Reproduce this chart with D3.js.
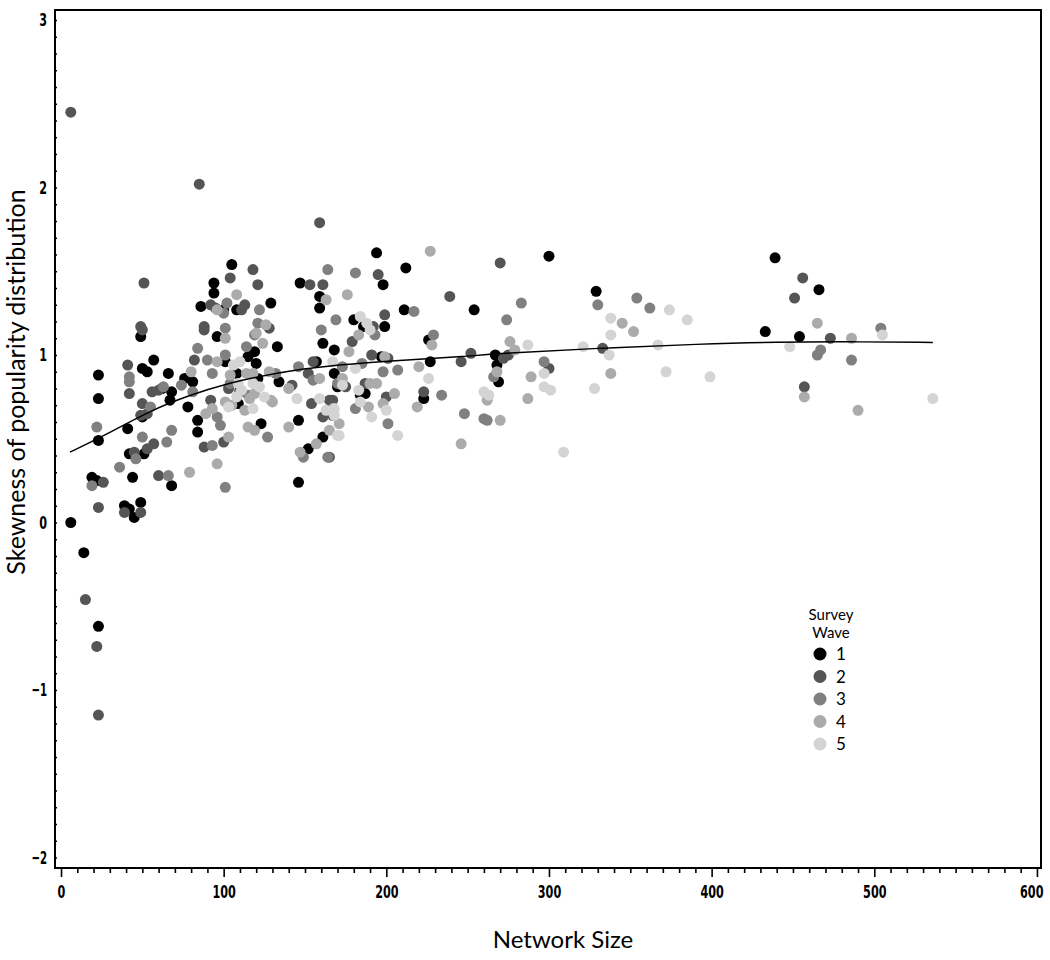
<!DOCTYPE html>
<html lang="en">
  <head>
    <title>Skewness of popularity distribution by network size</title>
    <script src="https://d3js.org/d3.v7.min.js"></script>
    <style>
      body { margin: 0; background: #fff; }
      .tick text { font-family: "Liberation Sans Narrow", "DejaVu Sans Condensed", sans-serif; font-size: 18.5px; font-weight: bold; fill: #000; }
      .title { font-family: Lato, "Open Sans", sans-serif; fill: #000; }
    </style>
  </head>
  <body>
    <div id="chart"></div>
    <script>
      // survey wave -> [network size, skewness]
      const waveLabels = ["1", "2", "3", "4", "5"];
      const waveColors = ["#000000", "#555555", "#808080", "#ababab", "#d4d4d4"];

      const wave1 = [
        [329,1.38],[439,1.58],[466,1.39],[433,1.14],[454,1.11],
        [194,1.61],[300,1.59],[212,1.52],[198,1.42],[211,1.27],[254,1.27],[199,1.17],[180,1.21],[186,1.17],
        [168,1.03],[226,1.09],[197,0.99],[267,1.00],[227,0.96],[268,0.94],[269,0.84],[168,0.89],[170,0.81],
        [187,0.77],[184,0.76],[223,0.74],
        [105,1.54],[94,1.43],[147,1.43],[94,1.37],[159,1.35],[86,1.29],[100,1.27],[108,1.27],[129,1.31],[159,1.28],
        [49,1.11],[96,1.11],[133,1.05],[119,1.02],[115,0.99],[101,0.96],[108,0.89],[120,0.95],[121,0.86],
        [134,0.84],[161,1.07],[157,0.96],[146,0.61],[161,0.51],[152,0.44],[146,0.24],[109,0.71],[110,0.79],
        [76,0.86],[81,0.84],[78,0.69],[84,0.61],[84,0.54],[123,0.59],
        [23,0.88],[23,0.74],[23,0.49],[41,0.56],[50,0.92],[53,0.90],[57,0.97],[66,0.89],[50,0.63],[62,0.80],
        [68,0.78],[67,0.73],[51,0.41],[42,0.41],[44,0.27],[68,0.22],[19,0.27],[22,0.25],[39,0.10],[42,0.08],
        [45,0.03],[49,0.12],[6,0.00],[14,-0.18],[23,-0.62]
      ];
      const wave2 = [
        [333,1.04],[456,1.46],[451,1.34],[473,1.10],[457,0.81],
        [270,1.55],[195,1.48],[239,1.35],[199,1.24],[192,1.17],[179,1.08],[191,1.00],[201,0.98],[252,1.01],
        [272,0.98],[275,1.00],[300,0.92],[246,0.96],[187,0.83],[175,0.81],[200,0.75],[223,0.78],[167,0.73],
        [167,0.64],[165,0.39],
        [6,2.45],[85,2.02],[159,1.79],[51,1.43],[104,1.46],[118,1.51],[153,1.42],[161,1.42],[121,1.42],
        [92,1.30],[95,1.28],[111,1.27],[113,1.30],[88,1.17],[49,1.17],[128,1.16],
        [50,1.15],[88,1.15],[82,0.97],[142,0.82],[152,0.89],[155,0.96],[154,0.71],[165,0.73],[161,0.63],
        [103,0.80],[92,0.73],[88,0.45],[100,0.48],
        [41,0.94],[42,0.77],[50,0.71],[53,0.65],[49,0.64],[56,0.78],[60,0.79],[57,0.47],[53,0.44],[45,0.42],
        [60,0.28],[26,0.24],[23,0.09],[39,0.06],[49,0.06],[15,-0.46],[22,-0.74],[23,-1.15]
      ];
      const wave3 = [
        [330,1.30],[354,1.34],[362,1.28],[504,1.16],[467,1.03],[465,1.00],[486,0.97],
        [181,1.49],[283,1.31],[169,1.21],[217,1.26],[193,1.12],[274,1.21],[229,1.12],[297,0.96],[266,0.87],
        [185,0.95],[173,0.93],[198,0.90],[207,0.91],[170,0.83],[234,0.76],[181,0.68],[201,0.59],[248,0.65],
        [260,0.62],[262,0.61],
        [164,1.51],[102,1.31],[100,1.25],[122,1.27],[121,1.19],[101,1.16],[160,1.15],
        [119,1.12],[114,1.05],[101,1.00],[84,1.04],[90,0.97],[146,0.93],[155,0.85],[167,0.68],[149,0.39],
        [164,0.39],[110,0.78],[115,0.76],[104,0.83],[93,0.89],[74,0.82],[81,0.78],[96,0.63],[98,0.58],
        [93,0.46],[101,0.21],[127,0.51],[132,0.89],
        [22,0.57],[42,0.87],[42,0.84],[63,0.81],[55,0.69],[68,0.55],[65,0.48],[50,0.51],[46,0.38],[36,0.33],
        [66,0.28],[19,0.22]
      ];
      const wave4 = [
        [345,1.19],[352,1.14],[338,0.89],[465,1.19],[486,1.10],[457,0.75],[490,0.67],
        [227,1.62],[176,1.36],[183,1.12],[228,1.06],[276,1.08],[279,1.03],[177,1.02],[199,0.99],[268,0.90],
        [289,0.87],[173,0.86],[220,0.93],[190,0.83],[194,0.83],[205,0.77],[262,0.73],[287,0.74],[219,0.69],
        [189,0.69],[198,0.71],[171,0.59],[165,0.55],[270,0.61],[246,0.47],
        [108,1.36],[96,1.27],[163,1.33],[126,1.18],
        [101,1.10],[120,1.13],[124,1.07],[96,0.96],[114,0.89],[118,0.89],[128,0.90],[130,0.72],[140,0.80],
        [159,0.86],[140,0.57],[157,0.47],[147,0.42],[101,0.72],[105,0.70],[113,0.67],[116,0.74],[119,0.77],
        [104,0.88],[80,0.90],[89,0.65],[93,0.68],[103,0.51],[96,0.35],[79,0.30],[115,0.57],[119,0.55],[129,0.73]
      ];
      const wave5 = [
        [338,1.22],[374,1.27],[385,1.21],[338,1.12],[337,1.00],[367,1.06],[328,0.80],[372,0.90],[399,0.87],
        [448,1.05],[505,1.12],[536,0.74],
        [184,1.23],[188,1.19],[190,1.15],[287,1.06],[321,1.05],[167,0.96],[181,0.92],[226,0.86],[173,0.82],
        [183,0.79],[260,0.78],[263,0.76],[301,0.79],[297,0.81],[297,0.89],[184,0.72],[200,0.67],[168,0.68],
        [191,0.63],[171,0.52],[207,0.52],[309,0.42],
        [106,0.94],[110,0.96],[145,0.74],[159,0.74],[163,0.67],[168,0.64],[170,0.52],[103,0.69],[108,0.75],
        [118,0.68],[111,0.79],[122,0.81],[118,0.83],[109,0.83],[125,0.75]
      ];
      const waves = [wave1, wave2, wave3, wave4, wave5];

      // smooth fit through all waves
      const fitLine = [
        [5.5,0.42],[23,0.50],[55,0.67],[79,0.76],[102,0.83],[130,0.89],[165,0.94],[220,0.975],
        [247,0.99],[270,1.01],[330,1.04],[393,1.066],[440,1.078],[485,1.08],[536,1.075]
      ];

      const xMajor = [0, 100, 200, 300, 400, 500, 600];
      const yMajor = [-2, -1, 0, 1, 2, 3];

      const width = 1050;
      const height = 960;
      const frame = { left: 55, right: 1041, top: 10, bottom: 868 };

      const svg = d3
        .select("#chart")
        .append("svg")
        .attr("width", width)
        .attr("height", height);

      const x = d3.scaleLinear().domain([-3.7, 602.5]).range([frame.left, frame.right]);
      const y = d3.scaleLinear().domain([-2.063, 3.06]).range([frame.bottom, frame.top]);

      // minor ticks every 10 / every 0.1
      const xMinor = d3.range(0, 601, 10).filter((v) => v % 100 !== 0);
      const yMinor = d3.range(-20, 31, 1).map((v) => v / 10).filter((v) => Math.round(v * 10) % 10 !== 0);

      const xAxis = svg.append("g").attr("transform", `translate(0,${frame.bottom})`);
      xAxis.call(d3.axisBottom(x).tickValues(xMajor).tickSize(9).tickPadding(8).tickFormat(d3.format("d")));
      xAxis.append("g").call(d3.axisBottom(x).tickValues(xMinor).tickSize(5).tickFormat(""));

      const yAxis = svg.append("g").attr("transform", `translate(${frame.left},0)`);
      yAxis.call(d3.axisLeft(y).tickValues(yMajor).tickSize(4).tickPadding(4).tickFormat((d) => (d < 0 ? "\u2212" + -d : d)));
      yAxis.append("g").call(d3.axisLeft(y).tickValues(yMinor).tickSize(2).tickFormat(""));

      svg.selectAll(".domain").remove();
      svg.selectAll(".tick line").attr("stroke", "#000").attr("stroke-width", 1.6);
      yAxis.selectAll(".tick line").attr("x2", 2);

      // narrow the tick labels to the condensed look of the original
      svg.selectAll(".tick text").each(function () {
        const t = d3.select(this);
        const n = t.text().length;
        if (n > 0) t.attr("textLength", n * 7.8).attr("lengthAdjust", "spacingAndGlyphs");
      });
      // keep the last x label inside the page
      xAxis
        .selectAll(".tick text")
        .filter((d) => d === 600)
        .attr("text-anchor", "end")
        .attr("dx", 6);

      // frame
      svg
        .append("path")
        .attr("d", `M${frame.left},${frame.top}H${frame.right}V${frame.bottom}H${frame.left}Z`)
        .attr("fill", "none")
        .attr("stroke", "#000")
        .attr("stroke-width", 2);

      // points
      waves.forEach((pts, i) => {
        svg
          .append("g")
          .selectAll("circle")
          .data(pts)
          .join("circle")
          .attr("cx", (d) => x(d[0]))
          .attr("cy", (d) => y(d[1]))
          .attr("r", 5.5)
          .attr("fill", waveColors[i]);
      });

      // fitted curve
      svg
        .append("path")
        .datum(fitLine)
        .attr("fill", "none")
        .attr("stroke", "#000")
        .attr("stroke-width", 1.4)
        .attr("d", d3.line().x((d) => x(d[0])).y((d) => y(d[1])).curve(d3.curveBasis));

      // axis titles
      svg
        .append("text")
        .attr("class", "title")
        .attr("x", 563)
        .attr("y", 948)
        .attr("text-anchor", "middle")
        .style("font-size", "24px")
        .text("Network Size");

      svg
        .append("text")
        .attr("class", "title")
        .attr("transform", "translate(25,382) rotate(-90)")
        .attr("text-anchor", "middle")
        .style("font-size", "25px")
        .text("Skewness of popularity distribution");

      // legend
      const legend = svg.append("g").attr("transform", "translate(820,0)");
      legend
        .append("text")
        .attr("class", "title")
        .attr("x", 11)
        .attr("y", 620)
        .attr("text-anchor", "middle")
        .style("font-size", "15px")
        .text("Survey");
      legend
        .append("text")
        .attr("class", "title")
        .attr("x", 11)
        .attr("y", 638)
        .attr("text-anchor", "middle")
        .style("font-size", "15px")
        .text("Wave");

      const legendY = d3.scalePoint().domain(waveLabels).range([654, 744]);
      const item = legend
        .selectAll(".item")
        .data(waveLabels)
        .join("g")
        .attr("class", "item")
        .attr("transform", (d) => `translate(0,${legendY(d)})`);
      item.append("circle").attr("r", 6.5).attr("fill", (d, i) => waveColors[i]);
      item
        .append("text")
        .attr("class", "title")
        .attr("x", 16)
        .attr("y", 6)
        .style("font-size", "17px")
        .text((d) => d);
    </script>
  </body>
</html>
